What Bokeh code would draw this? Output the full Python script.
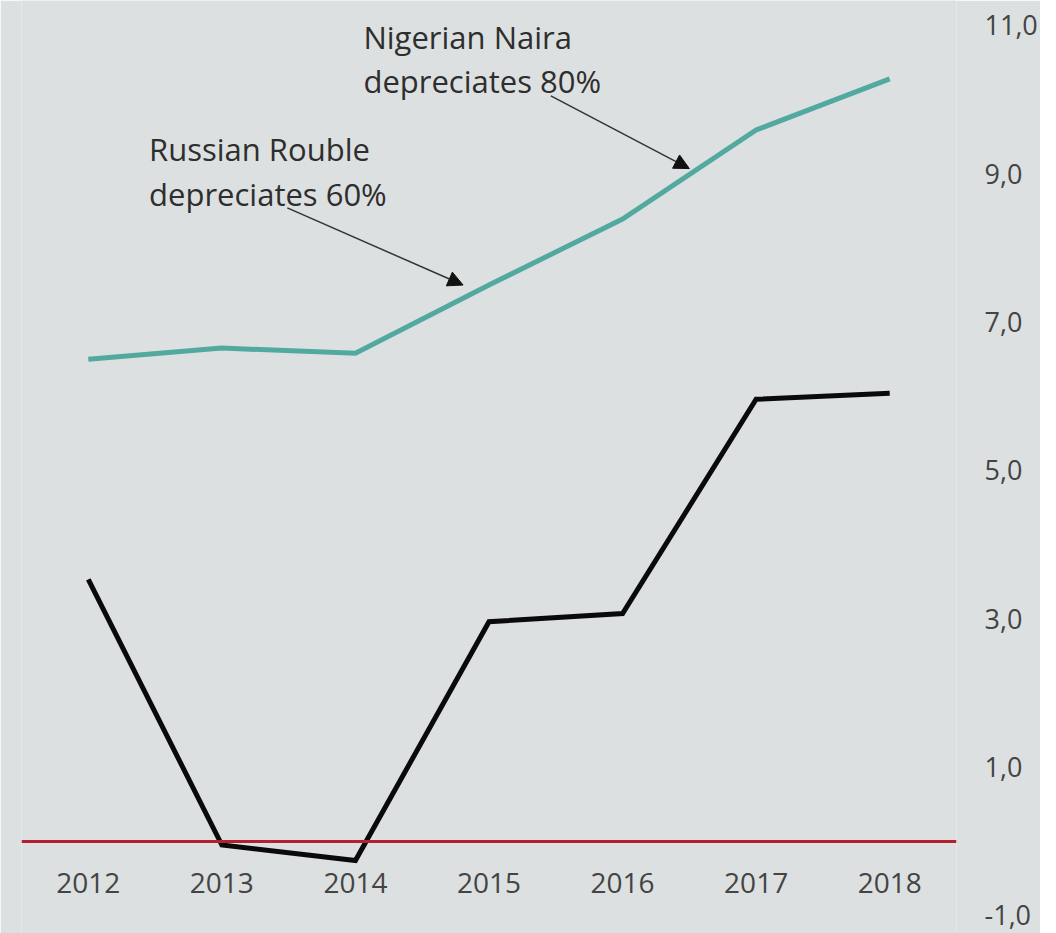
from bokeh.plotting import figure
from bokeh.models import Range1d, LinearAxis, FixedTicker, Arrow, NormalHead, ColumnDataSource
from bokeh.core.properties import value
from bokeh.embed import file_html
from bokeh.resources import INLINE

# ---- data ----
years = [2012, 2013, 2014, 2015, 2016, 2017, 2018]
naira_rouble = [6.50, 6.65, 6.58, 7.50, 8.39, 9.59, 10.28]   # teal series
other_series = [3.53, -0.05, -0.26, 2.96, 3.07, 5.96, 6.04]  # black series
y_ticks = [-1, 1, 3, 5, 7, 9, 11]
y_tick_labels = ["-1,0", "1,0", "3,0", "5,0", "7,0", "9,0", "11,0"]
x_tick_labels = ["2012", "2013", "2014", "2015", "2016", "2017", "2018"]

# annotations: text lines (x, baseline y) and arrows (start -> end), in data units
note_lines = ["Nigerian Naira", "depreciates 80%", "Russian Rouble", "depreciates 60%"]
note_x = [2014.06, 2014.06, 2012.455, 2012.455]
note_y = [10.85, 10.245, 9.33, 8.725]
arrows = [
    (2015.463, 10.05, 2016.50, 9.07),
    (2013.49, 8.54, 2014.806, 7.50),
]

BG = "#dde0e0"
FONT = "Open Sans"

p = figure(frame_width=935, frame_height=933, output_backend="svg", toolbar_location=None,
           x_range=Range1d(2011.5, 2018.5), y_range=Range1d(-1.243, 11.336),
           y_axis_location=None)
p.background_fill_color = BG
p.border_fill_color = BG
p.outline_line_color = None
p.grid.visible = False
p.min_border_left = 21
p.min_border_top = 0
p.min_border_right = 5
p.min_border_bottom = 0

# x axis at y = 0, drawn as the red zero line
xa = p.xaxis[0]
xa.fixed_location = 0
xa.ticker = FixedTicker(ticks=years)
xa.major_label_overrides = {y: s for y, s in zip(years, x_tick_labels)}
xa.axis_line_color = "#b5202e"
xa.axis_line_width = 3
xa.major_tick_line_color = None
xa.minor_tick_line_color = None
xa.major_tick_out = 0
xa.major_tick_in = 0
xa.major_label_standoff = 32
xa.major_label_text_font = FONT
xa.major_label_text_font_size = "28px"
xa.major_label_text_color = "#444444"

ya = LinearAxis(ticker=FixedTicker(ticks=y_ticks),
                major_label_overrides={t: s for t, s in zip(y_ticks, y_tick_labels)})
ya.axis_line_color = None
ya.major_tick_line_color = None
ya.minor_tick_line_color = None
ya.major_tick_out = 0
ya.major_tick_in = 0
ya.major_label_standoff = 28
ya.major_label_text_font = FONT
ya.major_label_text_font_size = "27px"
ya.major_label_text_color = "#444444"
p.add_layout(ya, "right")

p.line(years, naira_rouble, line_color="#52a9a0", line_width=5, line_join="miter")
p.line(years, other_series, line_color="#0a0a0a", line_width=5, line_join="miter")

src = ColumnDataSource(dict(x=note_x, y=note_y, t=note_lines))
p.text(x="x", y="y", text="t", source=src, text_font=value(FONT),
       text_font_size="31px", text_color="#2e2e2e", text_baseline="alphabetic",
       text_align="left")

for (xs, ys, xe, ye) in arrows:
    p.add_layout(Arrow(end=NormalHead(size=15, fill_color="#111111", line_color="#111111"),
                       x_start=xs, y_start=ys, x_end=xe, y_end=ye,
                       line_color="#333333", line_width=1.5))

open("out.html", "w").write(file_html(p, INLINE))
